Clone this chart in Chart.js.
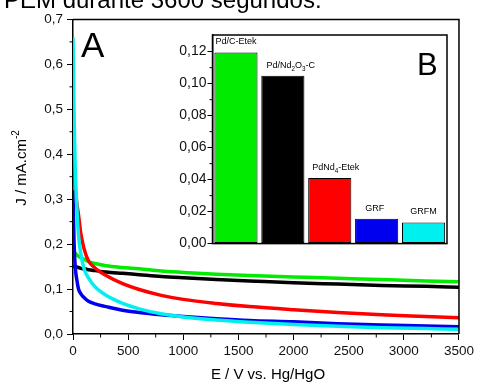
<!DOCTYPE html>
<html>
<head>
<meta charset="utf-8">
<script src="https://cdn.jsdelivr.net/npm/chart.js@4/dist/chart.umd.min.js"></script>
<style>
	body { margin: 0; background: #fff; }
	#wrap { position: relative; width: 477px; height: 383px; }
	#mainChart { position: absolute; left: 0; top: 0; }
	#insetChart { position: absolute; left: 150px; top: 25px; }
</style>
</head>
<body>
<div id="wrap">
	<canvas id="mainChart" width="477" height="383"></canvas>
	<canvas id="insetChart" width="305" height="228"></canvas>
</div>
<script>
// time axis (s) shared by all curves
const times = [0, 5, 10, 20, 35, 50, 70, 100, 140, 200, 300, 450, 600, 800, 1000, 1300, 1600, 2000, 2400, 2800, 3200, 3500];

// current density, mA.cm-2
const jPdCEtek = [0.200, 0.190, 0.185, 0.180, 0.176, 0.173, 0.170, 0.166, 0.161, 0.157, 0.152, 0.148, 0.145, 0.140, 0.137, 0.133, 0.130, 0.127, 0.124, 0.121, 0.118, 0.116];
const jPdNd2O3C = [0.152, 0.151, 0.151, 0.150, 0.149, 0.148, 0.146, 0.145, 0.143, 0.141, 0.138, 0.135, 0.132, 0.128, 0.125, 0.121, 0.118, 0.114, 0.111, 0.108, 0.106, 0.104];
const jPdNd4Etek = [0.450, 0.420, 0.390, 0.330, 0.290, 0.265, 0.225, 0.190, 0.163, 0.147, 0.130, 0.112, 0.099, 0.086, 0.077, 0.068, 0.061, 0.054, 0.048, 0.043, 0.039, 0.036];
const jGRF = [0.320, 0.250, 0.200, 0.150, 0.120, 0.100, 0.090, 0.081, 0.073, 0.067, 0.061, 0.053, 0.048, 0.043, 0.039, 0.034, 0.030, 0.027, 0.023, 0.020, 0.018, 0.016];
const jGRFM = [0.660, 0.580, 0.480, 0.370, 0.280, 0.220, 0.180, 0.145, 0.125, 0.105, 0.086, 0.068, 0.056, 0.045, 0.038, 0.031, 0.026, 0.021, 0.017, 0.014, 0.012, 0.0105];

// inset B: mean current per catalyst
const insetLabels = ['Pd/C-Etek', 'Pd/Nd_2O_3-C', 'PdNd_4-Etek', 'GRF', 'GRFM'];
const insetValues = [0.1195, 0.105, 0.041, 0.0155, 0.0132];

const colGreen = 'rgb(0,235,0)';
const colBlack = '#000000';
const colRed = '#ff0000';
const colBlue = '#0000ee';
const colCyan = '#00f0f0';
const insetColors = [colGreen, colBlack, colRed, colBlue, colCyan];

const FONT = 'Arial, "Liberation Sans", sans-serif';
const comma = (v, d) => Number(v).toFixed(d).replace('.', ',');
const pts = arr => arr.map((y, i) => ({ x: times[i], y: y }));

const line = (data, color) => ({
	data: pts(data),
	borderColor: color,
	borderWidth: 3.5,
	pointRadius: 0,
	fill: false,
	cubicInterpolationMode: 'monotone'
});

// minor ticks, frame, titles
const mainDecor = {
	id: 'mainDecor',
	afterDraw(chart) {
		const { ctx, chartArea: a, scales } = chart;
		ctx.save();
		ctx.strokeStyle = '#000';
		ctx.lineWidth = 1.5;
		ctx.beginPath();
		ctx.moveTo(a.left, a.top);
		ctx.lineTo(a.right, a.top);
		ctx.lineTo(a.right, a.bottom);
		ctx.stroke();
		ctx.lineWidth = 1;
		ctx.beginPath();
		for (let v = 250; v < 3500; v += 500) {
			const x = scales.x.getPixelForValue(v);
			ctx.moveTo(x, a.bottom);
			ctx.lineTo(x, a.bottom + 3.5);
		}
		for (let v = 0.05; v < 0.7; v += 0.1) {
			const y = scales.y.getPixelForValue(v);
			ctx.moveTo(a.left, y);
			ctx.lineTo(a.left - 3.5, y);
		}
		ctx.stroke();

		ctx.fillStyle = '#000';
		ctx.font = '35px ' + FONT;
		ctx.textAlign = 'left';
		ctx.textBaseline = 'alphabetic';
		ctx.fillText('A', 81, 57);

		ctx.font = '15px ' + FONT;
		ctx.textAlign = 'center';
		ctx.textBaseline = 'middle';
		ctx.fillText('E / V vs. Hg/HgO', 268, 375);

		ctx.translate(22, 168);
		ctx.rotate(-Math.PI / 2);
		const base = 'J / mA.cm';
		const wBase = ctx.measureText(base).width;
		ctx.font = '10px ' + FONT;
		const wSup = ctx.measureText('-2').width;
		const x0 = -(wBase + wSup) / 2;
		ctx.textAlign = 'left';
		ctx.font = '15px ' + FONT;
		ctx.fillText(base, x0, 0);
		ctx.font = '10px ' + FONT;
		ctx.fillText('-2', x0 + wBase, -6);
		ctx.restore();

		ctx.save();
		ctx.fillStyle = '#000';
		ctx.font = '24px ' + FONT;
		ctx.textAlign = 'left';
		ctx.textBaseline = 'alphabetic';
		ctx.fillText('PEM durante 3600 segundos.', 4, 8);
		ctx.restore();
	}
};

new Chart(document.getElementById('mainChart').getContext('2d'), {
	type: 'line',
	data: {
		datasets: [
			line(jGRFM, colCyan),
			line(jGRF, colBlue),
			line(jPdNd4Etek, colRed),
			line(jPdCEtek, colGreen),
			line(jPdNd2O3C, colBlack)
		]
	},
	options: {
		responsive: false,
		animation: false,
		layout: { padding: { top: 19.4, right: 14, left: 0, bottom: 0 } },
		plugins: { legend: { display: false }, tooltip: { enabled: false } },
		scales: {
			x: {
				type: 'linear',
				min: 0,
				max: 3500,
				afterFit: s => { s.height = 49; },
				border: { display: true, color: '#000', width: 1.5 },
				grid: { drawOnChartArea: false, tickLength: 6, color: '#000', tickWidth: 1 },
				ticks: { stepSize: 500, padding: 3, color: '#111', font: { size: 13.5, family: FONT }, maxRotation: 0, callback: v => String(v) }
			},
			y: {
				min: 0,
				max: 0.7,
				afterFit: s => { s.width = 73; },
				border: { display: true, color: '#000', width: 1.5 },
				grid: { drawOnChartArea: false, tickLength: 6, color: '#000', tickWidth: 1 },
				ticks: { stepSize: 0.1, padding: 4, color: '#111', font: { size: 13.5, family: FONT }, callback: v => comma(v, 1) }
			}
		}
	},
	plugins: [mainDecor]
});

// draws "Nd_2" style labels with subscripts
const drawSubLabel = (ctx, text, cx, y, size) => {
	const parts = [];
	for (let i = 0; i < text.length; i++) {
		if (text[i] === '_') { parts.push({ t: text[i + 1], sub: true }); i++; }
		else parts.push({ t: text[i], sub: false });
	}
	let w = 0;
	parts.forEach(p => {
		ctx.font = (p.sub ? size * 0.7 : size) + 'px ' + FONT;
		p.w = ctx.measureText(p.t).width;
		w += p.w;
	});
	let x = cx - w / 2;
	parts.forEach(p => {
		ctx.font = (p.sub ? size * 0.7 : size) + 'px ' + FONT;
		ctx.fillText(p.t, x, p.sub ? y + 3 : y);
		x += p.w;
	});
};

const insetDecor = {
	id: 'insetDecor',
	beforeDraw(chart) {
		const { ctx, chartArea: a } = chart;
		ctx.save();
		ctx.fillStyle = '#fff';
		ctx.fillRect(a.left, a.top, a.right - a.left, a.bottom - a.top);
		ctx.restore();
	},
	afterDraw(chart) {
		const { ctx, chartArea: a, scales } = chart;
		ctx.save();
		ctx.strokeStyle = '#000';
		ctx.lineWidth = 1.5;
		ctx.strokeRect(a.left, a.top, a.right - a.left, a.bottom - a.top);
		ctx.lineWidth = 1;
		ctx.beginPath();
		for (let v = 0.01; v < 0.13; v += 0.02) {
			const y = scales.y.getPixelForValue(v);
			ctx.moveTo(a.left, y);
			ctx.lineTo(a.left - 3, y);
		}
		ctx.stroke();

		ctx.fillStyle = '#000';
		ctx.textAlign = 'left';
		ctx.textBaseline = 'alphabetic';
		const meta = chart.getDatasetMeta(0);
		const offs = [0, 8, 6, -2, 0];
		meta.data.forEach((bar, i) => {
			drawSubLabel(ctx, insetLabels[i], bar.x + offs[i], bar.y - 8, 9);
		});

		ctx.font = '31px ' + FONT;
		ctx.fillText('B', a.right - 30, a.top + 40);
		ctx.restore();
	}
};

new Chart(document.getElementById('insetChart').getContext('2d'), {
	type: 'bar',
	data: {
		labels: insetLabels,
		datasets: [{
			data: insetValues,
			backgroundColor: insetColors,
			borderColor: '#000',
			borderWidth: 1,
			borderSkipped: false,
			barPercentage: 0.92,
			categoryPercentage: 1
		}]
	},
	options: {
		responsive: false,
		animation: false,
		layout: { padding: { top: 10, right: 8, left: 0, bottom: 8 } },
		plugins: { legend: { display: false }, tooltip: { enabled: false } },
		scales: {
			x: { display: false },
			y: {
				min: 0,
				max: 0.1304,
				afterFit: s => { s.width = 62.5; },
				afterBuildTicks: s => { s.ticks = [0, 0.02, 0.04, 0.06, 0.08, 0.10, 0.12].map(v => ({ value: v })); },
				border: { display: true, color: '#333', width: 1.5 },
				grid: { drawOnChartArea: false, tickLength: 5, color: '#000', tickWidth: 1 },
				ticks: { padding: 1, color: '#111', font: { size: 14, family: FONT }, callback: v => comma(v, 2) }
			}
		}
	},
	plugins: [insetDecor]
});
</script>
</body>
</html>
